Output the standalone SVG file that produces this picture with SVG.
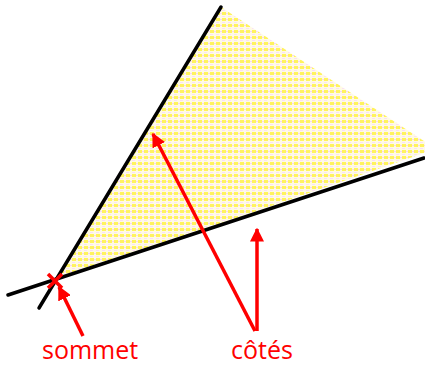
<svg xmlns="http://www.w3.org/2000/svg" width="425" height="366" viewBox="0 0 425 366">
<defs>
<style>
.side{stroke:#000;stroke-width:3.5;stroke-linecap:round;fill:none}
.arr{stroke:#ff0000;stroke-width:3.5;fill:none}
.lbl{font-family:"Open Sans","DejaVu Sans",sans-serif;font-size:25px;fill:#ff0000}
</style>
<pattern id="hatch" width="6" height="6" patternUnits="userSpaceOnUse">
<rect width="6" height="6" fill="#fffbe4"/>
<rect x="0" y="0" width="4" height="3" fill="#fff35e"/>
<rect x="4" y="1" width="2" height="1" fill="#fad6f0"/>
<rect x="0" y="4" width="3" height="1" fill="#fbe0f2"/>
</pattern>
<marker id="ah" viewBox="0 0 10 10" refX="9" refY="5" markerWidth="4" markerHeight="4" markerUnits="strokeWidth" orient="auto">
<path d="M0,0 L10,5 L0,10 z" fill="#ff0000"/>
</marker>
</defs>
<g id="angle">
<polygon points="55,281 221,7 436,149" fill="url(#hatch)"/>
</g>
<g id="sides">
<line class="side" x1="8" y1="295" x2="424" y2="158"/>
<line class="side" x1="39" y1="308" x2="221" y2="7"/>
</g>
<g id="vertex">
<line x1="48" y1="274" x2="62" y2="288" stroke="#ff0000" stroke-width="3.5"/>
<line x1="48" y1="288" x2="62" y2="274" stroke="#ff0000" stroke-width="3.5"/>
</g>
<g id="connectors">
<line class="arr" x1="83" y1="336" x2="59" y2="287" marker-end="url(#ah)"/>
<line class="arr" x1="255" y1="331" x2="153" y2="134" marker-end="url(#ah)"/>
<line class="arr" x1="257" y1="331" x2="257" y2="229" marker-end="url(#ah)"/>
</g>
<g id="labels">
<text class="lbl" x="42" y="359">sommet</text>
<text class="lbl" x="231" y="359">côtés</text>
</g>
</svg>
